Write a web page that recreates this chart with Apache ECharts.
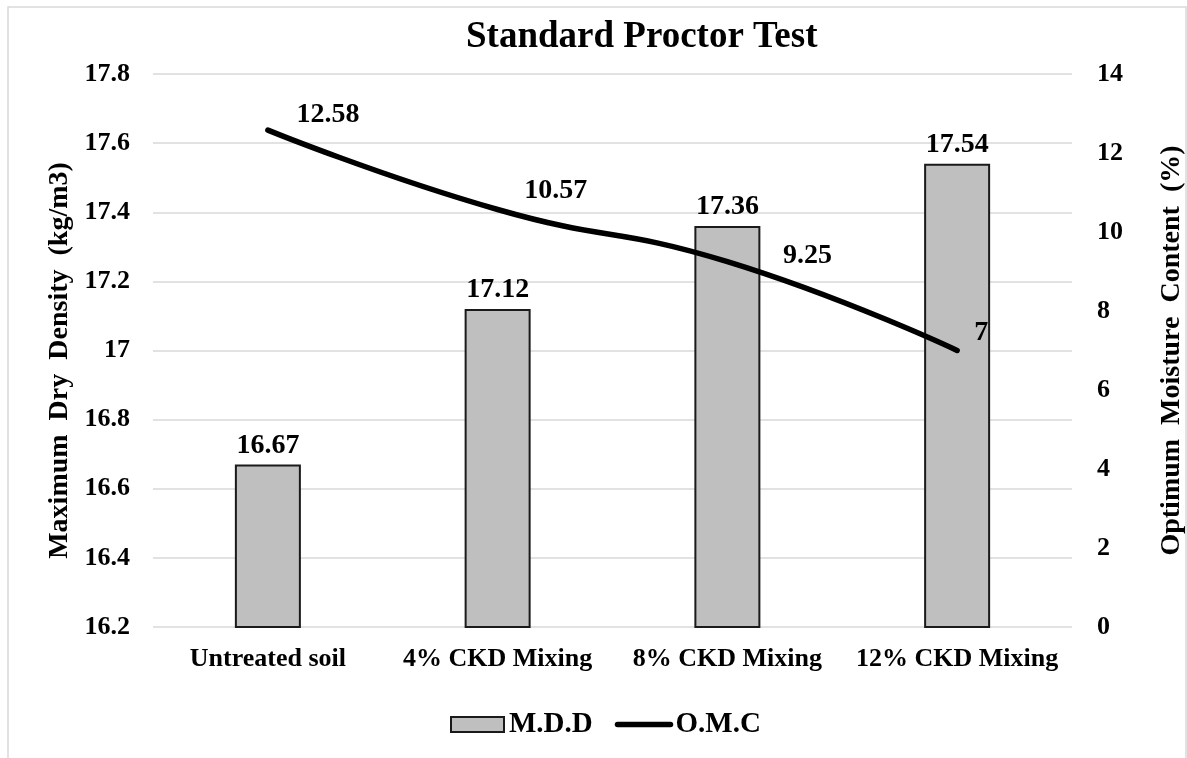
<!DOCTYPE html>
<html>
<head>
<meta charset="utf-8">
<title>Standard Proctor Test</title>
<script src="https://cdn.jsdelivr.net/npm/echarts@6/dist/echarts.min.js"></script>
<style>
  html, body { margin: 0; padding: 0; background: #fff; }
  #chart { width: 1187px; height: 758px; }
</style>
</head>
<body>
<div id="chart"></div>
<script>
const categories = ['Untreated soil', '4% CKD Mixing', '8% CKD Mixing', '12% CKD Mixing']
const mddValues = [16.67, 17.12, 17.36, 17.54]
const omcValues = [12.58, 10.57, 9.25, 7]
// where each O.M.C label sits relative to its point, as in the original
const omcLabelOffsets = [[60, 2], [58, -1], [80, 12], [24, 0]]

const font = 'Liberation Serif'
const chart = echarts.init(document.getElementById('chart'))

chart.setOption({
  backgroundColor: '#fff',
  textStyle: { fontFamily: font, fontWeight: 'bold', color: '#000' },
  graphic: [{
    type: 'rect',
    shape: { x: 8, y: 7, width: 1178, height: 770 },
    style: { fill: 'none', stroke: '#d9d9d9', lineWidth: 1.5 },
    silent: true
  }],
  title: {
    text: 'Standard Proctor Test',
    left: 461,
    top: 14,
    textStyle: { fontFamily: font, fontSize: 37, fontWeight: 'bold', color: '#000' }
  },
  legend: {
    left: 445,
    top: 705,
    itemWidth: 53,
    itemHeight: 15,
    itemGap: 22,
    textStyle: { fontFamily: font, fontSize: 29, fontWeight: 'bold', color: '#000' },
    data: [
      { name: 'M.D.D', icon: 'rect' },
      { name: 'O.M.C', itemStyle: { opacity: 0 }, lineStyle: { width: 5.5, cap: 'round' } }
    ]
  },
  grid: { left: 153, right: 115, top: 74, bottom: 131, outerBoundsMode: 'none' },
  xAxis: {
    type: 'category',
    data: categories,
    axisLine: { show: false },
    axisTick: { show: false },
    axisLabel: {
      interval: 0,
      margin: 19,
      fontFamily: font,
      fontSize: 26,
      fontWeight: 'bold',
      color: '#000'
    }
  },
  yAxis: [
    {
      type: 'value',
      min: 16.2,
      max: 17.8,
      interval: 0.2,
      name: 'Maximum  Dry  Density  (kg/m3)',
      nameLocation: 'middle',
      nameGap: 76,
      nameTextStyle: {
        fontFamily: font,
        fontSize: 28,
        fontWeight: 'bold',
        color: '#000',
        padding: [0, 20, 0, 0]
      },
      axisLine: { show: false },
      axisTick: { show: false },
      splitLine: { lineStyle: { color: '#d9d9d9', width: 1.5 } },
      axisLabel: {
        margin: 23,
        fontFamily: font,
        fontSize: 26,
        fontWeight: 'bold',
        color: '#000',
        formatter: (v) => String(Math.round(v * 10) / 10)
      }
    },
    {
      type: 'value',
      min: 0,
      max: 14,
      interval: 2,
      position: 'right',
      name: 'Optimum  Moisture  Content  (%)',
      nameLocation: 'middle',
      nameGap: 86,
      nameRotate: 90,
      nameTextStyle: { fontFamily: font, fontSize: 28, fontWeight: 'bold', color: '#000' },
      axisLine: { show: false },
      axisTick: { show: false },
      splitLine: { show: false },
      axisLabel: {
        margin: 25,
        fontFamily: font,
        fontSize: 26,
        fontWeight: 'bold',
        color: '#000'
      }
    }
  ],
  series: [
    {
      name: 'M.D.D',
      type: 'bar',
      yAxisIndex: 0,
      data: mddValues,
      barWidth: 66,
      itemStyle: { color: '#bfbfbf', borderColor: '#1a1a1a', borderWidth: 2 },
      label: {
        show: true,
        position: 'top',
        distance: 5,
        fontFamily: font,
        fontSize: 28,
        fontWeight: 'bold',
        color: '#000'
      }
    },
    {
      name: 'O.M.C',
      type: 'line',
      yAxisIndex: 1,
      smooth: true,
      symbol: 'circle',
      symbolSize: 1,
      data: omcValues.map((v, i) => ({
        value: v,
        label: { offset: omcLabelOffsets[i] }
      })),
      itemStyle: { color: '#000' },
      lineStyle: { color: '#000', width: 5.5, cap: 'round' },
      label: {
        show: true,
        position: 'top',
        distance: 3,
        fontFamily: font,
        fontSize: 28,
        fontWeight: 'bold',
        color: '#000'
      }
    }
  ]
})
</script>
</body>
</html>
